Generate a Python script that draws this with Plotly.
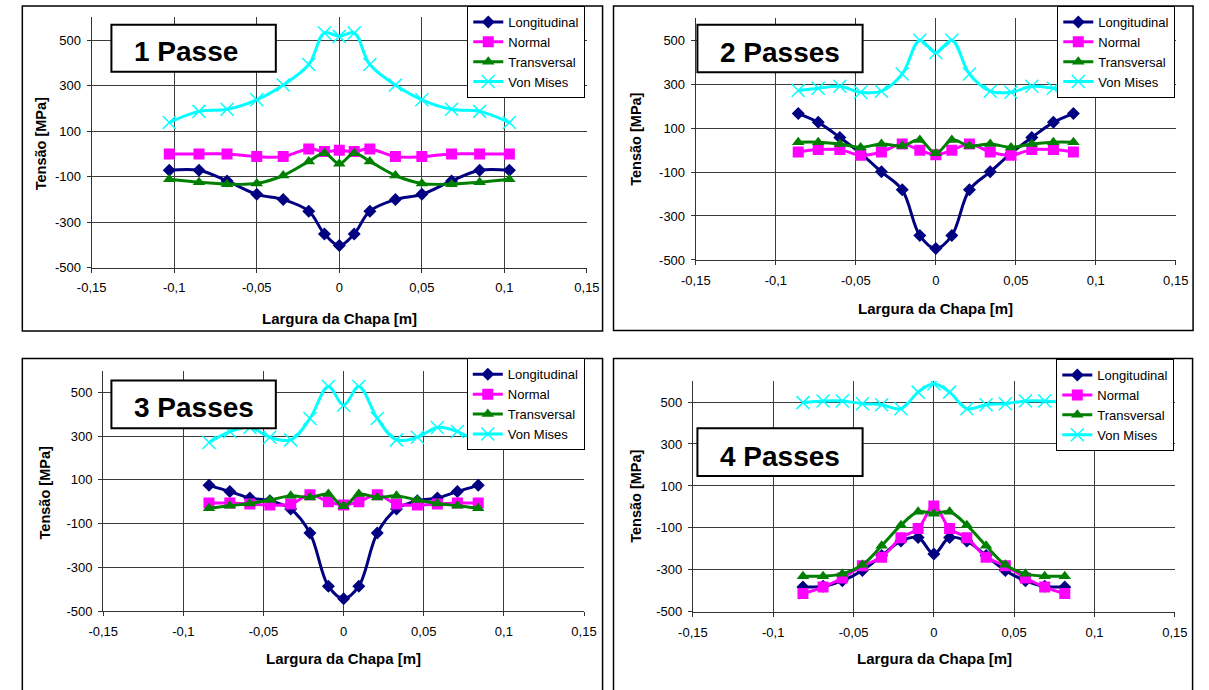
import plotly.graph_objects as go

# ---------------- data ----------------
series_names = ["Longitudinal", "Normal", "Transversal", "Von Mises"]
panel_titles = ["1 Passe", "2 Passes", "3 Passes", "4 Passes"]
x_title = "Largura da Chapa [m]"
y_title = "Tensão [MPa]"

x_tick_vals = [-0.15, -0.1, -0.05, 0, 0.05, 0.1, 0.15]
x_tick_text = ["-0,15", "-0,1", "-0,05", "0", "0,05", "0,1", "0,15"]
y_tick_vals = [-500, -300, -100, 100, 300, 500]
y_tick_text = ["-500", "-300", "-100", "100", "300", "500"]

x1 = [-0.103, -0.085, -0.068, -0.050, -0.034, -0.0185, -0.009, 0, 0.009, 0.0185, 0.034, 0.050, 0.068, 0.085, 0.103]
long1 = [-72, -72, -119, -178, -201, -252, -352, -403, -352, -252, -201, -178, -119, -72, -72]
norm1 = [0, 0, 0, -12, -12, 22, 10, 16, 10, 22, -12, -12, 0, 0, 0]
trans1 = [-112, -125, -133, -130, -95, -33, 3, -43, 3, -33, -95, -130, -133, -125, -112]
vm1 = [138, 187, 196, 238, 303, 393, 532, 517, 532, 393, 303, 238, 196, 187, 138]

x2 = [-0.086, -0.0735, -0.060, -0.047, -0.034, -0.021, -0.010, 0, 0.010, 0.021, 0.034, 0.047, 0.060, 0.0735, 0.086]
long2 = [166, 126, 57, -15, -99, -181, -389, -448, -389, -181, -99, -15, 57, 126, 166]
norm2 = [-9, 2, 2, -24, -9, 28, -1, -21, -1, 28, -9, -24, 2, 2, -9]
trans2 = [36, 36, 28, 12, 28, 19, 46, -15, 46, 19, 28, 12, 28, 36, 36]
vm2 = [271, 281, 290, 263, 268, 346, 500, 443, 500, 346, 268, 263, 290, 281, 271]

x3 = [-0.084, -0.071, -0.0585, -0.046, -0.033, -0.021, -0.0095, 0, 0.0095, 0.021, 0.033, 0.046, 0.0585, 0.071, 0.084]
long3 = [75, 47, 17, 5, -33, -143, -386, -443, -386, -143, -33, 5, 17, 47, 75]
norm3 = [-6, -6, -10, -15, -10, 32, 0, -15, 0, 32, -10, -15, -10, -6, -6]
trans3 = [-30, -18, -8, 8, 27, 20, 35, -21, 35, 20, 27, 8, -8, -18, -30]
vm3 = [271, 321, 340, 295, 283, 381, 527, 441, 527, 381, 283, 295, 340, 321, 271]

x4 = [-0.0815, -0.069, -0.057, -0.0445, -0.0325, -0.0205, -0.0098, 0, 0.0098, 0.0205, 0.0325, 0.0445, 0.057, 0.069, 0.0815]
long4 = [-382, -378, -352, -303, -232, -163, -146, -224, -146, -163, -232, -303, -352, -378, -382]
norm4 = [-413, -382, -339, -280, -240, -147, -103, 4, -103, -147, -240, -280, -339, -382, -413]
trans4 = [-330, -330, -319, -276, -185, -87, -23, -32, -23, -87, -185, -276, -319, -330, -330]
vm4 = [497, 505, 505, 492, 487, 468, 547, 587, 547, 468, 487, 492, 505, 505, 497]

panels_data = [
    (x1, [long1, norm1, trans1, vm1]),
    (x2, [long2, norm2, trans2, vm2]),
    (x3, [long3, norm3, trans3, vm3]),
    (x4, [long4, norm4, trans4, vm4]),
]

# ---------------- style ----------------
W, H = 1209, 690
FONT = "Liberation Sans, Arial, sans-serif"
colors = ["#000080", "#FF00FF", "#008000", "#00FFFF"]
symbols = ["diamond", "square", "triangle-up", "x-thin"]
msizes = [10, 11, 11, 13]

# pixel geometry per panel: plot area (left, right, top, bottom), frame, legend, title box, axis titles
geo = [
    dict(plot=(78.5, 585.5, 17.7, 270.7), frame=(7.5, 601.5, 6, 335), legend=(463, 6),
         tbox=(98.7, 267, 25, 72.7), tcy=52.5, xt=(332.2, 322.7), yt=(26.8, 145.8)),
    dict(plot=(697, 1188.3, 18.4, 263), frame=(612.7, 1206, 6, 334.5), legend=(1067, 6),
         tbox=(698.6, 867.7, 25, 73), tcy=53, xt=(942.5, 311.7), yt=(635.8, 141.3)),
    dict(plot=(90.3, 582.5, 374.9, 618.3), frame=(7.5, 601.5, 362.7, 700), legend=(462.5, 362.5),
         tbox=(98.7, 267, 385, 433.3), tcy=412.5, xt=(336.8, 666.7), yt=(30.6, 498.3)),
    dict(plot=(694, 1187.3, 385.5, 619), frame=(612.7, 1205.5, 362.7, 700), legend=(1066, 363.3),
         tbox=(698.6, 867.7, 433.3, 481.7), tcy=461.7, xt=(941.7, 666.7), yt=(635.8, 502.5)),
]

fig = go.Figure()
shapes = []
annotations = []
layout = dict(
    width=W, height=H, margin=dict(l=0, r=0, t=0, b=0),
    paper_bgcolor="white", plot_bgcolor="white",
    font=dict(family=FONT, size=13, color="black"),
    showlegend=True,
)

for i, ((xs, ys_list), g) in enumerate(zip(panels_data, geo)):
    n = i + 1
    xa = "x" if n == 1 else f"x{n}"
    ya = "y" if n == 1 else f"y{n}"
    lg = "legend" if n == 1 else f"legend{n}"
    for name, ys, c, s, ms in zip(series_names, ys_list, colors, symbols, msizes):
        marker = dict(symbol=s, size=ms, color=c)
        if s == "x-thin":
            marker["line"] = dict(color=c, width=1.5)
        fig.add_trace(go.Scatter(
            x=xs, y=ys, name=name, mode="lines+markers",
            line=dict(color=c, width=3, shape="spline", smoothing=1),
            marker=marker, xaxis=xa, yaxis=ya, legend=lg,
            legendgroup=f"p{n}_{name}",
        ))
    l, r, t, b = g["plot"]
    axis_common = dict(showgrid=True, gridcolor="#3c3c3c", gridwidth=1, zeroline=False,
                       showline=True, linecolor="#333333", linewidth=1.3,
                       ticks="outside", ticklen=4, tickcolor="#333333", tickwidth=1,
                       tickfont=dict(family=FONT, size=13, color="black"), fixedrange=True)
    layout["xaxis" if n == 1 else f"xaxis{n}"] = dict(
        domain=[l / W, r / W], anchor=ya, range=[-0.15, 0.15],
        tickmode="array", tickvals=x_tick_vals, ticktext=x_tick_text,
        ticklabelstandoff=4, **axis_common)
    layout["yaxis" if n == 1 else f"yaxis{n}"] = dict(
        domain=[1 - b / H, 1 - t / H], anchor=xa, range=[-500, 600],
        tickmode="array", tickvals=y_tick_vals, ticktext=y_tick_text,
        ticklabelstandoff=3, **axis_common)
    lx, ly = g["legend"]
    layout[lg] = dict(x=lx / W, y=1 - ly / H, xanchor="left", yanchor="top",
                      bgcolor="white", bordercolor="black", borderwidth=1,
                      font=dict(family=FONT, size=13, color="black"),
                      itemwidth=30, tracegroupgap=2, traceorder="normal")
    # panel frame
    fl, fr, ft, fb = g["frame"]
    shapes.append(dict(type="rect", xref="paper", yref="paper",
                       x0=fl / W, x1=fr / W, y0=1 - fb / H, y1=1 - ft / H,
                       line=dict(color="black", width=1.5), fillcolor="rgba(0,0,0,0)", layer="below"))
    # title box
    bl, br, bt, bb = g["tbox"]
    shapes.append(dict(type="rect", xref="paper", yref="paper",
                       x0=bl / W, x1=br / W, y0=1 - bb / H, y1=1 - bt / H,
                       line=dict(color="black", width=2), fillcolor="white", layer="above"))
    annotations.append(dict(text=panel_titles[i], xref="paper", yref="paper",
                            x=(bl + 21) / W, y=1 - g["tcy"] / H, xanchor="left", yanchor="middle",
                            showarrow=False, font=dict(family=FONT, size=28, color="black", weight="bold")))
    # axis titles
    xtx, xty = g["xt"]
    annotations.append(dict(text=x_title, xref="paper", yref="paper", x=xtx / W, y=1 - xty / H,
                            xanchor="center", yanchor="middle", showarrow=False,
                            font=dict(family=FONT, size=15, color="black", weight="bold")))
    ytx, yty = g["yt"]
    annotations.append(dict(text=y_title, xref="paper", yref="paper", x=ytx / W, y=1 - yty / H,
                            xanchor="center", yanchor="middle", textangle=-90, showarrow=False,
                            font=dict(family=FONT, size=14.5, color="black", weight="bold")))

layout["shapes"] = shapes
layout["annotations"] = annotations
fig.update_layout(**layout)
fig.write_html("out.html", config={"displayModeBar": False},
               post_script="document.body.style.margin='0';document.body.style.overflow='hidden';")
